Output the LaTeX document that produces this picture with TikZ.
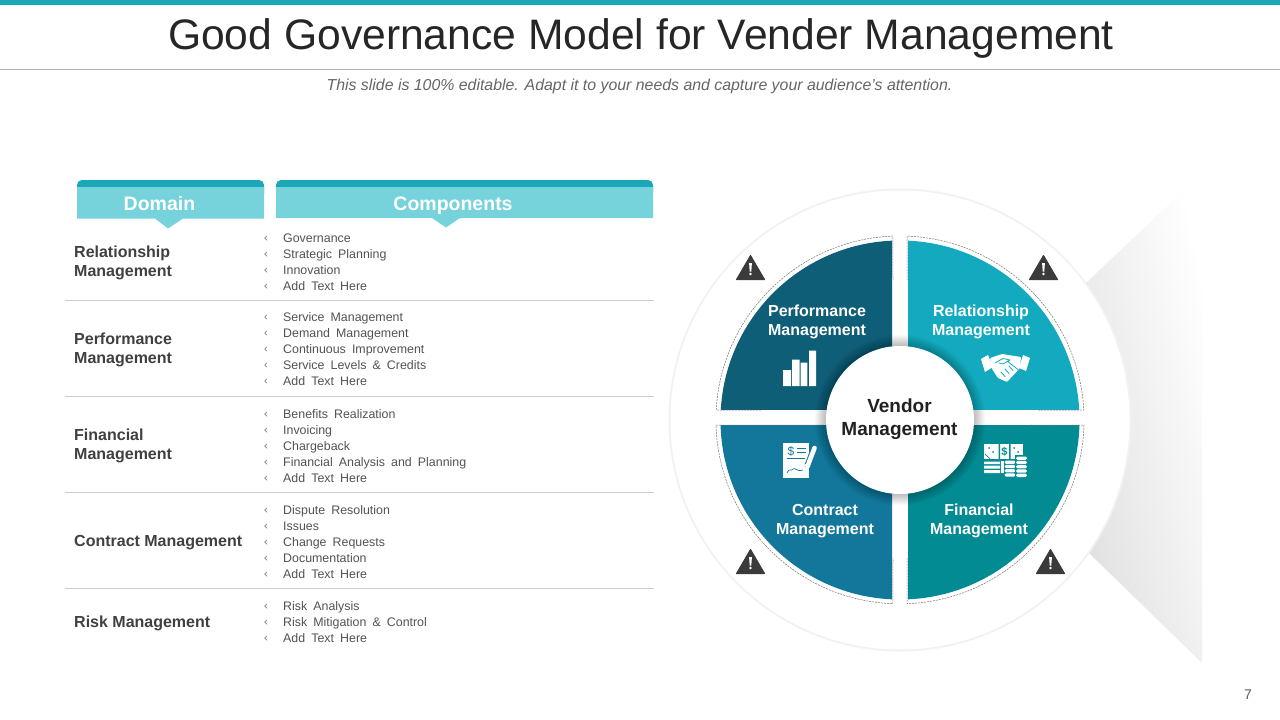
\documentclass[tikz,border=0pt]{standalone}
\usepackage{fontspec}
\setmainfont{Liberation Sans}
\definecolor{cbar}{HTML}{1AA7B8}
\definecolor{chead}{HTML}{76D3DC}
\definecolor{cperf}{HTML}{0F5E78}
\definecolor{crel}{HTML}{13AABF}
\definecolor{ccon}{HTML}{12779B}
\definecolor{cfin}{HTML}{038B93}
\definecolor{ctxt}{HTML}{404040}
\definecolor{cwarn}{HTML}{3B3B3B}
\newcommand{\widewords}[1]{{\spaceskip=6.1pt\relax #1}}
\tikzset{
  itemtext/.style={anchor=base west,inner sep=0pt,font=\fontsize{12.4}{14}\selectfont,text=ctxt!90},
  bullettext/.style={anchor=center,inner sep=0pt,font=\fontsize{11}{12}\selectfont,text=black!55},
  domaintext/.style={anchor=west,inner sep=0pt,align=left,font=\bfseries\fontsize{16}{19}\selectfont,text=ctxt},
  headtext/.style={anchor=base,inner sep=0pt,font=\bfseries\fontsize{19.5}{22}\selectfont,text=white},
  quadtext/.style={inner sep=0pt,align=center,font=\bfseries\fontsize{16}{19}\selectfont,text=white},
  rule/.style={draw=black!20,line width=1pt},
  dashline/.style={draw=black!55,line width=.5pt,dash pattern=on 2pt off 1pt},
  warnshape/.style={fill=cwarn,draw=cwarn,line width=1pt,line join=round},
}
\newcommand{\warnsign}[2]{%
  \fill[warnshape] (#1-14,#2+12) -- (#1,#2-12) -- (#1+14,#2+12) -- cycle;
  \fill[white] (#1-1.4,#2-4.5) -- (#1+1.4,#2-4.5) -- (#1+.8,#2+4) -- (#1-.8,#2+4) -- cycle;
  \fill[white] (#1,#2+6.5) circle (1.4pt);
}
\begin{document}
\begin{tikzpicture}[x=1pt,y=-1pt]
\useasboundingbox (0,0) rectangle (1280,720);
\fill[white] (0,0) rectangle (1280,720);
% title band
\fill[cbar] (0,0) rectangle (1280,5);
\draw[black!30,line width=1pt] (0,69.5) -- (1280,69.5);
\node[anchor=base,inner sep=0pt,font=\fontsize{42.65}{50}\selectfont,text=black!85] (title) at (641,49.5) {Good Governance Model for Vender Management};
\node[anchor=base,inner sep=0pt,font=\itshape\fontsize{15.87}{19}\selectfont,text=black!60] (sub) at (639.5,90) {This slide is 100\% editable. Adapt it to your needs and capture your audience's attention.};
\node[inner sep=0pt,font=\fontsize{14}{16}\selectfont,text=black!65] (page) at (1248,695) {7};
% table headers
\fill[cbar,rounded corners=5pt] (77,180) rectangle (264,198);
\fill[chead] (77,187) -- (264,187) -- (264,218.5) -- (183,218.5) -- (168,228.5) -- (155,218.5) -- (77,218.5) -- cycle;
\node[headtext] (hdomain) at (159.5,210) {Domain};
\fill[cbar,rounded corners=5pt] (276,180) rectangle (653,198);
\fill[chead] (276,187) -- (653,187) -- (653,218) -- (460,218) -- (446,227.5) -- (432,218) -- (276,218) -- cycle;
\node[headtext] (hcomp) at (453,210) {Components};
% rules
\foreach \y in {300.5,396.5,492.5,588.5} \draw[rule] (65,\y) -- (654,\y);
% domain names
\node[domaintext] (d1) at (74,263) {Relationship\\Management};
\node[domaintext] (d2) at (74,350) {Performance\\Management};
\node[domaintext] (d3) at (74,446) {Financial\\Management};
\node[domaintext] (d4) at (74,543) {Contract Management};
\node[domaintext] (d5) at (74,623.5) {Risk Management};
% components
\foreach \t [count=\i] in {Governance,Strategic Planning,Innovation,Add Text Here}
  {\pgfmathsetmacro{\yy}{237.5+16*(\i-1)}
   \node[bullettext] (ba\i) at (266,\yy+1) {‹};
   \node[itemtext] (ia\i) at (283,\yy+4.5) {\widewords{\t}};}
\foreach \t [count=\i] in {Service Management,Demand Management,Continuous Improvement,{Service Levels \& Credits},Add Text Here}
  {\pgfmathsetmacro{\yy}{316.5+16*(\i-1)}
   \node[bullettext] (bb\i) at (266,\yy+1) {‹};
   \node[itemtext] (ib\i) at (283,\yy+4.5) {\widewords{\t}};}
\foreach \t [count=\i] in {Benefits Realization,Invoicing,Chargeback,Financial Analysis and Planning,Add Text Here}
  {\pgfmathsetmacro{\yy}{413.5+16*(\i-1)}
   \node[bullettext] (bc\i) at (266,\yy+1) {‹};
   \node[itemtext] (ic\i) at (283,\yy+4.5) {\widewords{\t}};}
\foreach \t [count=\i] in {Dispute Resolution,Issues,Change Requests,Documentation,Add Text Here}
  {\pgfmathsetmacro{\yy}{509.5+16*(\i-1)}
   \node[bullettext] (bd\i) at (266,\yy+1) {‹};
   \node[itemtext] (id\i) at (283,\yy+4.5) {\widewords{\t}};}
\foreach \t [count=\i] in {Risk Analysis,{Risk Mitigation \& Control},Add Text Here}
  {\pgfmathsetmacro{\yy}{605.5+16*(\i-1)}
   \node[bullettext] (be\i) at (266,\yy+1) {‹};
   \node[itemtext] (ie\i) at (283,\yy+4.5) {\widewords{\t}};}
% cone
\shade[top color=white,bottom color=black!15,shading angle=-78] (1040,330) -- (1087,282) -- (1202,173) -- (1202,663) -- (1088,552) -- (1040,510) -- cycle;
% outer disc
\coordinate (c) at (900,420);
\fill[black!5] (c) circle (231.5pt);
\fill[white] (c) circle (229.5pt);
% quadrants
\begin{scope}\clip (700,230) rectangle (892,409);
\fill[cperf] (c) circle (179.5pt);\end{scope}
\begin{scope}\clip (908,230) rectangle (1100,409);
\fill[crel] (c) circle (179.5pt);\end{scope}
\begin{scope}\clip (700,425) rectangle (892,610);
\fill[ccon] (c) circle (179.5pt);\end{scope}
\begin{scope}\clip (908,425) rectangle (1100,610);
\fill[cfin] (c) circle (179.5pt);\end{scope}
% dashed outlines
\draw[dashline] (1038,410) -- (1083.8,410) arc[start angle=3.1,end angle=87.8,radius=184pt] -- (907,280);
\draw[dashline] (761,410) -- (716.2,410) arc[start angle=176.9,end angle=92.2,radius=184pt] -- (893,280);
\draw[dashline] (823,425) -- (716,425) arc[start angle=181.6,end angle=267.8,radius=184pt] -- (893,558);
\draw[dashline] (1030,425) -- (1084,425) arc[start angle=-1.6,end angle=-87.8,radius=184pt] -- (907,558);
% centre shadow
\foreach \r in {75,76,...,85} \fill[black,opacity=.024] (c) circle (\r pt);
\node[circle,fill=white,minimum size=148pt,inner sep=0pt] (vm) at (900,420) {};
\node[inner sep=0pt,align=center,font=\bfseries\fontsize{19}{23}\selectfont,text=black!87] (vmt) at (899.5,419.5) {Vendor\\Management};
% labels
\node[quadtext] (q1) at (817,322) {Performance\\Management};
\node[quadtext] (q2) at (981,322) {Relationship\\Management};
\node[quadtext] (q3) at (825,521) {Contract\\Management};
\node[quadtext] (q4) at (979,521) {Financial\\Management};
% warnings
\warnsign{750.5}{267.5}
\warnsign{1043.5}{267.5}
\warnsign{750.5}{561.5}
\warnsign{1050.5}{561.5}
% bars icon
\fill[white] (783,370) rectangle (791,386) (792,359.5) rectangle (799.5,386) (800.7,362.7) rectangle (807.3,386) (809,350.7) rectangle (816,386);
% handshake icon
\fill[white] (981,359) -- (988,355) -- (993,367) -- (985,372) -- cycle;
\fill[white] (1023,355) -- (1030,358) -- (1026,371) -- (1019,368) -- cycle;
\fill[white,rounded corners=1pt] (990,358) -- (1002,354) -- (1021,357) -- (1020,368) -- (1007,382) -- (998,378) -- (992,369) -- cycle;
\draw[crel,line width=.8pt,line cap=round,line join=round] (995,363) -- (1003,358.5) -- (1010,360) -- (1003,364) -- (999,363) (1007,361) -- (1018,369.5) (1001,372) -- (1005,376.5) (1005,369) -- (1009,373.5) (1009,366) -- (1013,370.5);
% cheque icon
\fill[white] (782.5,443) rectangle (809,478);
\node[inner sep=0pt,font=\fontsize{12}{12}\selectfont,text=ccon] (dol1) at (791,451.5) {\$};
\draw[ccon,line width=1pt] (797,448.5) -- (806,448.5) (797,452.5) -- (806,452.5) (787,458) -- (805,458);
\draw[ccon,line width=.7pt] (787,473) .. controls (790,467) and (791,472) .. (793,469) .. controls (795,467) and (796,472) .. (803,470);
\draw[ccon,line width=6.6pt,line cap=round] (814.5,448) -- (808,465);
\draw[white,line width=4.6pt,line cap=round] (814.5,448) -- (808,465);
\fill[white] (805,464) -- (810.5,466) -- (806,472) -- cycle;
% money icon
\fill[white] (984,444) rectangle (1023,459);
\fill[white] (984,461.5) rectangle (1000,464) (984,465.5) rectangle (1000,468.5) (984,470) rectangle (1000,473) (1001,461) rectangle (1004,473);
\fill[cfin] (998.5,444) rectangle (1000,459) (1009,444) rectangle (1010.5,459);
\node[inner sep=0pt,font=\bfseries\fontsize{11}{11}\selectfont,text=cfin] (dol2) at (1004.5,451.5) {\$};
\fill[cfin] (989,448) circle (1pt) (993,452) circle (1pt) (1014,448) circle (1pt) (1018,452) circle (1pt);
\draw[cfin,line width=.7pt] (985,454) -- (990,459);
\foreach \cx/\top/\n in {1010/460.5/3,1021.5/456.5/4}{
  \fill[cfin] (\cx-6.5,\top-1.5) rectangle (\cx+6.5,479);
  \foreach \k in {0,...,\n}{
    \fill[white,rounded corners=1.5pt] (\cx-5.5,\top+\k*4.3) rectangle (\cx+5.5,\top+\k*4.3+3.3);
  }
}
\end{tikzpicture}
\end{document}
